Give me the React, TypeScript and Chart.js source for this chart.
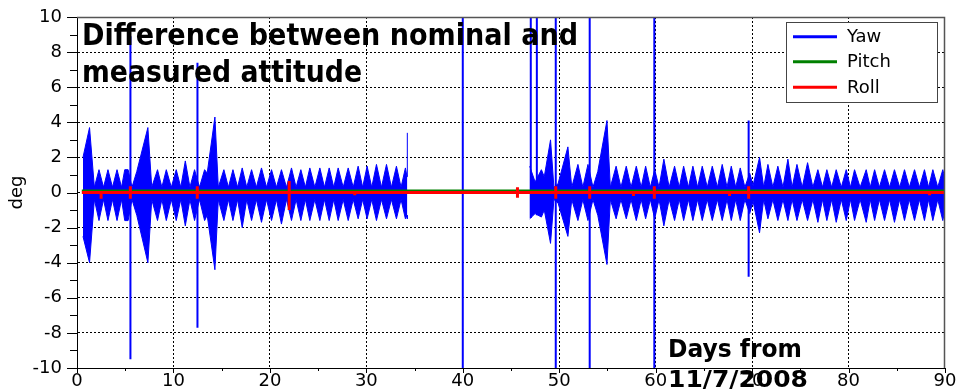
import React, { useEffect, useRef } from 'react';
import { Chart, registerables } from 'chart.js';

Chart.register(...registerables);

// ---- Yaw envelope, first data block (days, upper, lower) ----
const yawSeg1Days = [
  0.62, 1.3, 1.8, 2.28, 2.75, 3.21, 3.68, 4.15, 4.62, 4.95,
  5.3, 5.7, 6.2, 7.35, 7.75, 8.35, 8.8, 9.26, 9.78, 10.29,
  10.76, 11.23, 11.71, 12.19, 12.7, 13.23, 13.5, 14.3, 14.65, 15.23,
  15.7, 16.17, 16.65, 17.13, 17.6, 18.1, 18.6, 19.13, 19.65, 20.17,
  20.68, 21.2, 21.72, 22.24, 22.72, 23.21, 23.68, 24.14, 24.66, 25.18,
  25.66, 26.15, 26.62, 27.08, 27.6, 28.12, 28.64, 29.15, 29.62, 30.08,
  30.56, 31.05, 31.57, 32.09, 32.6, 33.12, 33.6, 34.05, 34.22, 34.25,
];
const yawSeg1Hi = [
  2.0, 3.7, 0.3, 1.3, 0.3, 1.3, 0.3, 1.3, 0.3, 1.3,
  1.3, 0.3, 1.2, 3.7, 0.3, 1.3, 0.3, 1.3, 0.3, 1.3,
  0.3, 1.8, 0.3, 1.3, 0.3, 1.3, 1.1, 4.3, 0.3, 1.3,
  0.3, 1.3, 0.3, 1.4, 0.3, 1.3, 0.3, 1.4, 0.3, 1.3,
  0.3, 1.3, 0.3, 1.4, 0.3, 1.3, 0.3, 1.4, 0.3, 1.4,
  0.3, 1.4, 0.3, 1.4, 0.3, 1.4, 0.3, 1.5, 0.3, 1.5,
  0.3, 1.6, 0.3, 1.6, 0.3, 1.5, 0.3, 1.4, 0.9, 3.4,
];
const yawSeg1Lo = [
  -2.5, -4.0, -0.4, -1.6, -0.4, -1.6, -0.4, -1.6, -0.4, -1.6,
  -1.6, -0.4, -1.3, -4.0, -0.4, -1.6, -0.4, -1.6, -0.4, -1.6,
  -0.4, -1.9, -0.4, -1.6, -0.4, -1.6, -1.3, -4.4, -0.4, -1.6,
  -0.4, -1.6, -0.4, -2.0, -0.4, -1.6, -0.4, -1.7, -0.4, -1.6,
  -0.4, -1.8, -0.4, -1.6, -0.4, -1.6, -0.4, -1.6, -0.4, -1.6,
  -0.4, -1.6, -0.4, -1.6, -0.4, -1.6, -0.4, -1.5, -0.4, -1.5,
  -0.4, -1.6, -0.4, -1.5, -0.4, -1.5, -0.4, -1.5, -1.3, -1.5,
];

// ---- Yaw envelope, second data block ----
const yawSeg2Days = [
  46.94, 47.5, 48.15, 48.45, 49.1, 49.45, 49.88, 50.9, 51.3, 51.94,
  52.45, 52.98, 53.5, 54.0, 54.95, 55.3, 55.9, 56.4, 56.95, 57.45,
  57.99, 58.5, 58.96, 59.45, 59.9, 60.35, 60.85, 61.4, 61.96, 62.45,
  62.9, 63.4, 63.86, 64.35, 64.83, 65.35, 65.87, 66.4, 66.9, 67.4,
  67.84, 68.3, 68.77, 69.25, 69.75, 70.1, 70.77, 71.2, 71.64, 72.15,
  72.67, 73.2, 73.71, 74.15, 74.65, 75.2, 75.75, 76.3, 76.82, 77.3,
  77.75, 78.25, 78.72, 79.25, 79.76, 80.2, 80.62, 81.2, 81.83, 82.25,
  82.7, 83.2, 83.73, 84.25, 84.76, 85.3, 85.8, 86.3, 86.84, 87.35,
  87.87, 88.3, 88.74, 89.25, 89.77, 90.0,
];
const yawSeg2Hi = [
  1.5, 0.6, 1.3, 0.9, 3.0, 0.3, 0.5, 2.6, 0.3, 1.6,
  0.3, 1.6, 0.3, 1.2, 4.1, 0.3, 1.5, 0.3, 1.5, 0.3,
  1.5, 0.3, 1.5, 0.3, 1.3, 0.3, 1.9, 0.3, 1.5, 0.3,
  1.5, 0.3, 1.5, 0.3, 1.5, 0.3, 1.5, 0.3, 1.6, 0.3,
  1.5, 0.3, 1.4, 0.3, 1.1, 0.4, 2.0, 0.3, 1.6, 0.3,
  1.5, 0.3, 1.9, 0.3, 1.6, 0.3, 1.7, 0.3, 1.3, 0.3,
  1.3, 0.3, 1.3, 0.3, 1.3, 0.3, 1.3, 0.3, 1.3, 0.3,
  1.3, 0.3, 1.3, 0.3, 1.3, 0.3, 1.3, 0.3, 1.3, 0.3,
  1.3, 0.3, 1.3, 0.3, 1.3, 0.8,
];
const yawSeg2Lo = [
  -1.5, -1.2, -1.4, -1.0, -2.9, -0.4, -0.6, -2.5, -0.4, -1.6,
  -0.4, -1.6, -0.4, -1.3, -4.1, -0.4, -1.5, -0.4, -1.5, -0.4,
  -1.6, -0.4, -1.5, -0.4, -1.5, -0.4, -1.9, -0.4, -1.6, -0.4,
  -1.6, -0.4, -1.6, -0.4, -1.6, -0.4, -1.6, -0.4, -1.6, -0.4,
  -1.6, -0.4, -1.6, -0.4, -1.2, -0.5, -2.3, -0.4, -1.5, -0.4,
  -1.6, -0.4, -1.6, -0.4, -1.6, -0.4, -1.6, -0.4, -1.7, -0.4,
  -1.6, -0.4, -1.7, -0.4, -1.6, -0.4, -1.6, -0.4, -1.7, -0.4,
  -1.6, -0.4, -1.6, -0.4, -1.7, -0.4, -1.6, -0.4, -1.6, -0.4,
  -1.6, -0.4, -1.6, -0.4, -1.6, -1.0,
];

// ---- Yaw isolated spikes ----
const yawSpikeDays = [5.54, 12.49, 40.0, 47.05, 47.68, 49.64, 53.16, 59.86, 69.64];
const yawSpikeLo = [-9.5, -7.7, -10.5, -1.45, -1.3, -10.5, -10.5, -10.5, -4.8];
const yawSpikeHi = [8.9, 7.4, 10.5, 10.5, 10.5, 10.5, 10.5, 10.5, 4.1];

// ---- Pitch ----
const pitchDays = [0.5, 90];
const pitchValues = [0.12, 0.12];

// ---- Roll ----
const rollDays = [
  0.5,
  2.5, 2.5, 2.5,
  5.53, 5.53, 5.53, 5.53,
  12.47, 12.47, 12.47, 12.47,
  22.0, 22.0, 22.0, 22.0,
  28.8, 28.8, 28.8,
  45.67, 45.67, 45.67, 45.67,
  49.64, 49.64, 49.64, 49.64,
  53.16, 53.16, 53.16, 53.16,
  57.7, 57.7, 57.7,
  59.86, 59.86, 59.86, 59.86,
  67.66, 67.66, 67.66,
  69.64, 69.64, 69.64, 69.64,
  88.4, 88.4, 88.4,
  90,
];
const rollValues = [
  0,
  0, -0.35, 0,
  0, 0.35, -0.35, 0,
  0, 0.35, -0.35, 0,
  0, 0.65, -1.0, 0,
  0, -0.15, 0,
  0, 0.3, -0.3, 0,
  0, 0.35, -0.35, 0,
  0, 0.35, -0.35, 0,
  0, -0.2, 0,
  0, 0.35, -0.35, 0,
  0, -0.2, 0,
  0, 0.35, -0.35, 0,
  0, -0.15, 0,
  0,
];

// ---- Text ----
const titleLines = ['Difference between nominal and', 'measured attitude'];
const xTitleLines = ['Days from', '11/7/2008'];
const yTitle = 'deg';
const legendLabels = ['Yaw', 'Pitch', 'Roll'];
const legendColors = ['#0000ff', '#008000', '#ff0000'];

const BLUE = '#0000ff';
const FONT = 'DejaVu Sans';

const pts = (xs: number[], ys: (number | null)[]) => xs.map((x, i) => ({ x, y: ys[i] }));

function spikePoints() {
  const out: { x: number; y: number | null }[] = [];
  yawSpikeDays.forEach((d, i) => {
    out.push({ x: d, y: yawSpikeLo[i] });
    out.push({ x: d, y: yawSpikeHi[i] });
    out.push({ x: d, y: null });
  });
  return out;
}

function fittedText(ctx: CanvasRenderingContext2D, text: string, x: number, y: number, size: number, width: number) {
  ctx.font = `bold ${size}px "${FONT}"`;
  const w = ctx.measureText(text).width;
  ctx.save();
  ctx.translate(x, y);
  ctx.scale(width / w, 1);
  ctx.textAlign = 'left';
  ctx.textBaseline = 'alphabetic';
  ctx.fillStyle = '#000';
  ctx.fillText(text, 0, 0);
  ctx.restore();
}

const overlay = {
  id: 'overlay',
  afterDraw(chart: any) {
    const { ctx, chartArea: a, scales } = chart;
    const xs = scales.x;
    const ys = scales.y;
    ctx.save();
    // frame top/right
    ctx.strokeStyle = '#555';
    ctx.lineWidth = 1.5;
    ctx.beginPath();
    ctx.moveTo(a.left, a.top + 0.5);
    ctx.lineTo(a.right - 0.5, a.top + 0.5);
    ctx.lineTo(a.right - 0.5, a.bottom);
    ctx.stroke();
    // tick marks
    ctx.strokeStyle = '#000';
    ctx.lineWidth = 1;
    for (let v = ys.min; v <= ys.max; v += 1) {
      const py = Math.round(ys.getPixelForValue(v)) + 0.5;
      const len = v % 2 === 0 ? 10 : 7;
      ctx.beginPath();
      ctx.moveTo(a.left - len, py);
      ctx.lineTo(a.left, py);
      ctx.stroke();
    }
    for (let v = xs.min; v <= xs.max; v += 5) {
      const px = Math.round(xs.getPixelForValue(v)) + 0.5;
      const len = v % 10 === 0 ? 5 : 3;
      ctx.beginPath();
      ctx.moveTo(px, a.bottom);
      ctx.lineTo(px, a.bottom + len);
      ctx.stroke();
    }
    // legend
    const bx = 786.5, by = 22.5, bw = 151, bh = 80;
    ctx.fillStyle = '#fff';
    ctx.fillRect(bx, by, bw, bh);
    ctx.strokeStyle = '#444';
    ctx.lineWidth = 1;
    ctx.strokeRect(bx, by, bw, bh);
    const rows = [36.7, 61.7, 87.3];
    ctx.font = `18px "${FONT}"`;
    ctx.textBaseline = 'middle';
    ctx.textAlign = 'left';
    legendLabels.forEach((lab, i) => {
      ctx.strokeStyle = legendColors[i];
      ctx.lineWidth = 3;
      ctx.beginPath();
      ctx.moveTo(793, rows[i]);
      ctx.lineTo(837, rows[i]);
      ctx.stroke();
      ctx.fillStyle = '#000';
      ctx.fillText(lab, 847, rows[i] + 1);
    });
    // titles
    fittedText(ctx, titleLines[0], 82, 45, 30, 496);
    fittedText(ctx, titleLines[1], 82, 82, 30, 280);
    fittedText(ctx, xTitleLines[0], 668, 357, 24, 134);
    fittedText(ctx, xTitleLines[1], 668, 387, 23, 140);
    ctx.restore();
  },
};

export default function App() {
  const ref = useRef<HTMLCanvasElement>(null);
  useEffect(() => {
    document.body.style.margin = '0';
    Chart.defaults.font.family = FONT;
    const chart = new Chart(ref.current as HTMLCanvasElement, {
      type: 'line',
      data: {
        datasets: [
          { label: 'Roll', data: pts(rollDays, rollValues), borderColor: '#ff0000', borderWidth: 3, order: 0, fill: false },
          { label: 'Pitch', data: pts(pitchDays, pitchValues), borderColor: '#008000', borderWidth: 2, order: 1, fill: false },
          { label: 'Yaw spikes', data: spikePoints(), borderColor: BLUE, borderWidth: 2, order: 2, fill: false, spanGaps: false },
          { label: 'Yaw', data: pts(yawSeg1Days, yawSeg1Hi), borderColor: BLUE, backgroundColor: BLUE, borderWidth: 1, order: 3, fill: '+1' },
          { label: 'Yaw lo1', data: pts(yawSeg1Days, yawSeg1Lo), borderColor: BLUE, borderWidth: 1, order: 4, fill: false },
          { label: 'Yaw hi2', data: pts(yawSeg2Days, yawSeg2Hi), borderColor: BLUE, backgroundColor: BLUE, borderWidth: 1, order: 5, fill: '+1' },
          { label: 'Yaw lo2', data: pts(yawSeg2Days, yawSeg2Lo), borderColor: BLUE, borderWidth: 1, order: 6, fill: false },
        ] as any,
      },
      options: {
        responsive: false,
        animation: false,
        devicePixelRatio: 1,
        layout: { padding: { top: 17, right: 16, left: 0, bottom: 0 } },
        elements: { point: { radius: 0 }, line: { tension: 0, borderJoinStyle: 'miter' } },
        plugins: { legend: { display: false }, tooltip: { enabled: false } },
        scales: {
          x: {
            type: 'linear',
            min: 0,
            max: 90,
            ticks: { stepSize: 10, color: '#000', font: { size: 18, family: FONT }, padding: 3, maxRotation: 0, autoSkip: false },
            grid: {
              color: (c: any) => (c.tick && (c.tick.value === 0 || c.tick.value === 90) ? 'rgba(0,0,0,0)' : '#000'),
              lineWidth: 1,
              drawTicks: false,
            },
            border: { display: true, color: '#000', width: 1, dash: [2, 2] },
            afterFit: (s: any) => { s.height = 23; s.paddingLeft = 0; s.paddingRight = 0; },
          },
          y: {
            min: -10,
            max: 10,
            ticks: { stepSize: 2, color: '#000', font: { size: 18, family: FONT }, padding: 15 },
            grid: {
              color: (c: any) => (c.tick && (c.tick.value === 10 || c.tick.value === -10) ? 'rgba(0,0,0,0)' : '#000'),
              lineWidth: 1,
              drawTicks: false,
            },
            border: { display: true, color: '#000', width: 1, dash: [2, 2] },
            title: { display: true, text: yTitle, color: '#000', font: { size: 18, family: FONT }, padding: { top: 7, bottom: 0 } },
            afterFit: (s: any) => { s.width = 77; s.paddingTop = 0; s.paddingBottom = 0; },
          },
        },
      } as any,
      plugins: [overlay],
    });
    return () => chart.destroy();
  }, []);
  return (
    <div style={{ width: 961, height: 391 }}>
      <canvas ref={ref} width={961} height={391} style={{ display: 'block' }} />
    </div>
  );
}
